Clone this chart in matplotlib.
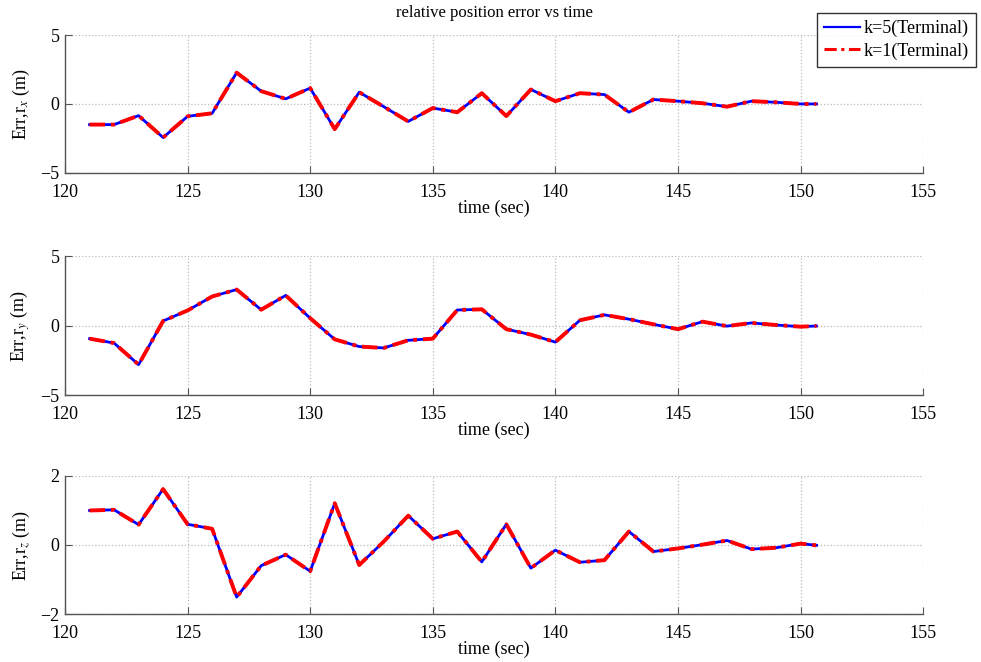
"""
Relative position error vs time, terminal estimates for k=5 and k=1.
"""

import numpy as np
import matplotlib.pyplot as plt

plt.rcParams['font.family'] = ['Liberation Serif', 'DejaVu Serif']
plt.rcParams['mathtext.fontset'] = 'stix'

# Sample times (sec)
t = [121, 122, 123, 124, 125, 126, 127, 128, 129, 130,
     131, 132, 133, 134, 135, 136, 137, 138, 139, 140,
     141, 142, 143, 144, 145, 146, 147, 148, 149, 150, 150.65]

# Position errors (m), k=5 terminal
err_x_k5 = [-1.5, -1.5, -0.85, -2.44, -0.9, -0.68, 2.27, 0.93, 0.37, 1.15,
            -1.83, 0.85, -0.2, -1.27, -0.3, -0.6, 0.78, -0.88, 1.05, 0.2,
            0.78, 0.68, -0.6, 0.32, 0.2, 0.05, -0.2, 0.2, 0.12, 0.0, 0.0]
err_y_k5 = [-0.93, -1.25, -2.8, 0.34, 1.1, 2.1, 2.6, 1.15, 2.18, 0.54,
            -0.98, -1.5, -1.6, -1.05, -0.93, 1.13, 1.18, -0.25, -0.64, -1.18,
            0.39, 0.78, 0.47, 0.1, -0.25, 0.29, -0.03, 0.2, 0.05, -0.07, -0.02]
err_z_k5 = [1.0, 1.02, 0.59, 1.62, 0.6, 0.47, -1.51, -0.6, -0.28, -0.76,
            1.21, -0.58, 0.1, 0.85, 0.18, 0.39, -0.49, 0.6, -0.67, -0.15,
            -0.5, -0.44, 0.39, -0.19, -0.1, 0.01, 0.13, -0.12, -0.08, 0.04, -0.01]

# k=1 terminal lies on top of k=5
err_x_k1 = list(err_x_k5)
err_y_k1 = list(err_y_k5)
err_z_k1 = list(err_z_k5)

panels = [
    (err_x_k5, err_x_k1, r'Err,r$_x$ (m)', (-5, 5), [-5, 0, 5]),
    (err_y_k5, err_y_k1, r'Err,r$_y$ (m)', (-5, 5), [-5, 0, 5]),
    (err_z_k5, err_z_k1, r'Err,r$_z$ (m)', (-2, 2), [-2, 0, 2]),
]

fig = plt.figure(figsize=(9.81, 6.62), dpi=100)
boxes = [
    [0.0663, 0.739, 0.8747, 0.208],
    [0.0663, 0.403, 0.8747, 0.210],
    [0.0663, 0.0725, 0.8747, 0.2085],
]

for (e5, e1, ylab, ylim, yticks), box in zip(panels, boxes):
    ax = fig.add_axes(box)
    l5, = ax.plot(t, e5, color='blue', linewidth=2.0, label='k=5(Terminal)')
    l1, = ax.plot(t, e1, color='red', linewidth=2.8, linestyle=(0, (4, 1.5, 1, 1.5)),
                  label='k=1(Terminal)')
    ax.set_xlim(120, 155)
    ax.set_ylim(*ylim)
    ax.set_xticks(np.arange(120, 156, 5))
    ax.set_yticks(yticks)
    ax.grid(True, linestyle=':', color='#bbbbbb', linewidth=0.9)
    for side in ['top', 'right']:
        ax.spines[side].set_visible(False)
    for side in ['left', 'bottom']:
        ax.spines[side].set_color('#555555')
        ax.spines[side].set_linewidth(1.0)
    ax.tick_params(direction='in', length=5, colors='#555555', labelcolor='black',
                   labelsize=13)
    ax.tick_params(axis='x', pad=8)
    ax.tick_params(axis='y', pad=4)
    ax.set_xlabel('time (sec)', fontsize=13, labelpad=-1)
    ax.set_ylabel(ylab, fontsize=13, labelpad=6)
    if box is boxes[0]:
        ax.set_title('relative position error vs time', fontsize=12, pad=13)

leg = fig.legend(handles=[l5, l1], loc='upper right', bbox_to_anchor=(0.995, 0.981),
                 fontsize=13, frameon=True, fancybox=False, edgecolor='black',
                 borderpad=0.4, labelspacing=0.3, handlelength=2.0, handletextpad=0.2,
                 borderaxespad=0)
leg.get_frame().set_linewidth(1.0)
legend_lines = leg.get_lines()
legend_lines[0].set_linewidth(1.6)
legend_lines[1].set_linewidth(2.2)

plt.savefig('out.png', dpi=100)
plt.close()
